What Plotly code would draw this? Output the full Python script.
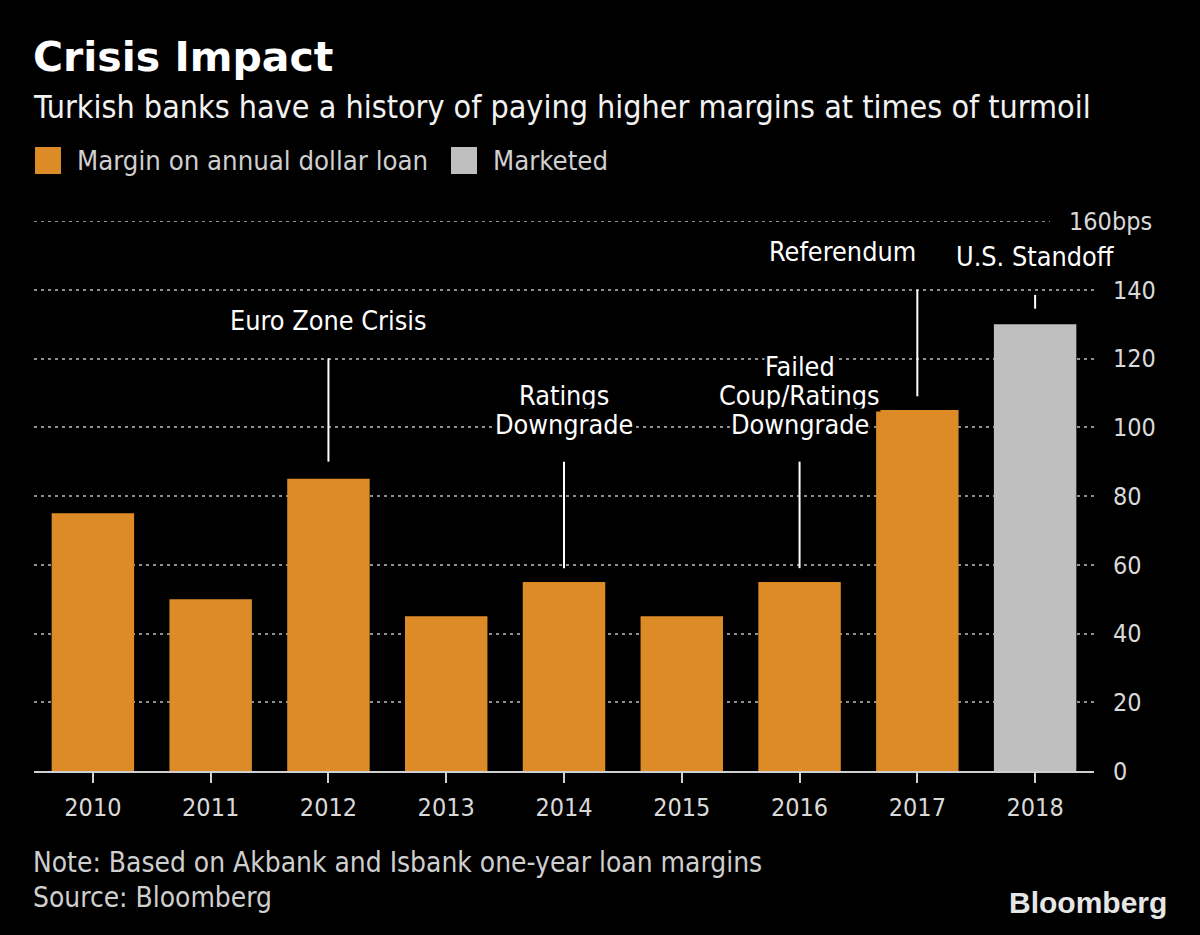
import plotly.graph_objects as go

# ---- data ----
years = ["2010", "2011", "2012", "2013", "2014", "2015", "2016", "2017", "2018"]
margin_years = years[:8]
margin_values = [75, 50, 85, 45, 55, 45, 55, 105]
marketed_years = years[8:]
marketed_values = [130]
y_ticks = [0, 20, 40, 60, 80, 100, 120, 140]

# event annotations: (year, text lines, text-centre values, line from, line to, anchor)
events = [
    ("2012", ["Euro Zone Crisis"], [131], 90, 120, "center"),
    ("2014", ["Ratings", "Downgrade"], [109.3, 100.9], 59, 90, "center"),
    ("2016", ["Failed", "Coup/Ratings", "Downgrade"], [117.7, 109.3, 100.9], 59, 90, "center"),
    ("2017", ["Referendum"], [151.2], 109, 140, "right"),
    ("2018", ["U.S. Standoff"], [149.6], 134.5, 138.5, "center"),
]

FONT = "DejaVu Sans Condensed, Liberation Sans Narrow, sans-serif"
ORANGE = "#dc8b27"
GREY = "#bfbfbf"
GRID = "#8f8f8f"
W, H = 1200, 935
L, R, T, B = 34, 106, 221, 164
PW, PH = W - L - R, H - T - B


def px_x(p):
    return (p - L) / PW


def px_y(p):
    return (H - B - p) / PH


fig = go.Figure()
fig.add_trace(go.Bar(x=margin_years, y=margin_values, marker_color=ORANGE,
                     marker_line_width=0, name="Margin on annual dollar loan",
                     showlegend=False))
fig.add_trace(go.Bar(x=marketed_years, y=marketed_values, marker_color=GREY,
                     marker_line_width=0, name="Marketed", showlegend=False))

annotations = []
shapes = []

# event lines and labels (category axis -> use category index)
for yr, lines, ys, y0, y1, anchor in events:
    xi = years.index(yr)
    shapes.append(dict(type="line", xref="x", yref="y", x0=xi, x1=xi, y0=y0, y1=y1,
                       line=dict(color="white", width=2)))
    for txt, yv in zip(lines, ys):
        annotations.append(dict(xref="x", yref="y", x=xi, y=yv, text=txt, showarrow=False,
                                xanchor=anchor, yanchor="middle", bgcolor="black",
                                borderpad=0,
                                font=dict(family=FONT, size=26.8, color="white")))

# 160 gridline (shorter) and its label
shapes.append(dict(type="line", xref="paper", yref="y", x0=0, x1=px_x(1050), y0=160, y1=160,
                   line=dict(color=GRID, width=2, dash="3px,4px"), layer="below"))
annotations.append(dict(xref="paper", yref="y", x=px_x(1154), y=160, text="160bps",
                        showarrow=False, xanchor="right", yanchor="middle",
                        font=dict(family=FONT, size=25, color="#d9d9d9")))

# title, subtitle
annotations.append(dict(xref="paper", yref="paper", x=px_x(31), y=px_y(57), text="<b>Crisis Impact</b>",
                        showarrow=False, xanchor="left", yanchor="middle",
                        font=dict(family="DejaVu Sans", size=41, color="white")))
annotations.append(dict(xref="paper", yref="paper", x=px_x(31), y=px_y(107),
                        text="Turkish banks have a history of paying higher margins at times of turmoil",
                        showarrow=False, xanchor="left", yanchor="middle",
                        font=dict(family=FONT, size=32, color="#f2f2f2")))

# legend (manual)
legend_items = [("Margin on annual dollar loan", ORANGE, 35), ("Marketed", GREY, 451)]
for txt, col, x0 in legend_items:
    shapes.append(dict(type="rect", xref="paper", yref="paper", x0=px_x(x0), x1=px_x(x0 + 26),
                       y0=px_y(174), y1=px_y(147), fillcolor=col, line_width=0))
    annotations.append(dict(xref="paper", yref="paper", x=px_x(x0 + 40), y=px_y(160), text=txt,
                            showarrow=False, xanchor="left", yanchor="middle",
                            font=dict(family=FONT, size=27.3, color="#cfcfcf")))

# notes
annotations.append(dict(xref="paper", yref="paper", x=px_x(31), y=px_y(862),
                        text="Note: Based on Akbank and Isbank one-year loan margins",
                        showarrow=False, xanchor="left", yanchor="middle",
                        font=dict(family=FONT, size=27.9, color="#cfcfcf")))
annotations.append(dict(xref="paper", yref="paper", x=px_x(31), y=px_y(897),
                        text="Source: Bloomberg",
                        showarrow=False, xanchor="left", yanchor="middle",
                        font=dict(family=FONT, size=27.9, color="#cfcfcf")))
annotations.append(dict(xref="paper", yref="paper", x=px_x(1169), y=px_y(902),
                        text="<b>Bloomberg</b>",
                        showarrow=False, xanchor="right", yanchor="middle",
                        font=dict(family="Liberation Sans", size=30, color="#e6e6e6")))

fig.update_layout(
    width=W, height=H,
    margin=dict(l=L, r=R, t=T, b=B, pad=0),
    paper_bgcolor="black", plot_bgcolor="black",
    barmode="overlay", bargap=0.30,
    showlegend=False,
    annotations=annotations, shapes=shapes,
    xaxis=dict(type="category", categoryorder="array", categoryarray=years,
               range=[-0.5, 8.5], showgrid=False, zeroline=False,
               showline=True, linecolor="#d0d0d0", linewidth=2,
               ticks="outside", ticklen=10, tickwidth=2, tickcolor="#d0d0d0",
               ticklabelstandoff=3,
               tickfont=dict(family=FONT, size=25, color="#d9d9d9")),
    yaxis=dict(range=[0, 160], side="right", tickvals=y_ticks,
               ticktext=[str(v) for v in y_ticks],
               showgrid=True, gridcolor=GRID, gridwidth=2, griddash="3px,4px",
               zeroline=False, showline=False, ticks="", ticklabelstandoff=18,
               tickfont=dict(family=FONT, size=25, color="#d9d9d9")),
)

fig.write_html("out.html", config={"displayModeBar": False},
               post_script="document.body.style.margin='0';document.body.style.background='black';")
